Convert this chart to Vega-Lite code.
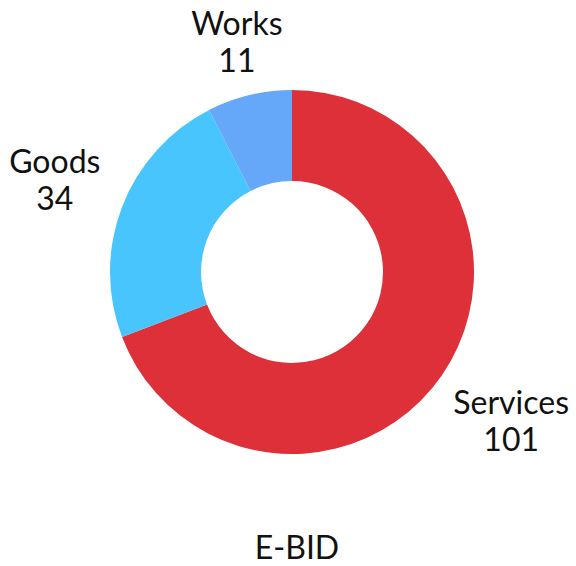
{
  "$schema": "https://vega.github.io/schema/vega-lite/v6.json",
  "width": 568,
  "height": 544,
  "autosize": {"type": "none"},
  "padding": {"left": 8, "top": 0, "right": 0, "bottom": 22},
  "background": "white",
  "config": {"view": {"stroke": null}, "font": "Lato"},
  "title": {
    "text": "E-BID",
    "orient": "bottom",
    "anchor": "middle",
    "baseline": "alphabetic",
    "offset": 15,
    "dx": 5,
    "fontSize": 32,
    "font": "Lato",
    "fontWeight": "normal",
    "color": "#111111"
  },
  "data": {
    "values": [
      {"category": "Services", "count": 101, "rank": 1},
      {"category": "Goods", "count": 34, "rank": 2},
      {"category": "Works", "count": 11, "rank": 3}
    ]
  },
  "transform": [
    {"calculate": "[datum.category, '' + datum.count]", "as": "label"}
  ],
  "encoding": {
    "theta": {"field": "count", "type": "quantitative", "stack": true},
    "order": {"field": "rank", "type": "quantitative"}
  },
  "layer": [
    {
      "mark": {"type": "arc", "outerRadius": 182, "innerRadius": 91},
      "encoding": {
        "color": {
          "field": "category",
          "type": "nominal",
          "scale": {"domain": ["Services", "Goods", "Works"], "range": ["#dd3039", "#47c5fc", "#65a8fa"]},
          "legend": null
        }
      }
    },
    {
      "mark": {"type": "text", "radius": 266, "dy": -18.5, "fontSize": 32, "font": "Lato", "lineHeight": 37, "color": "#111111", "align": "center", "baseline": "middle"},
      "encoding": {"text": {"condition": {"test": "datum.category === 'Services'", "field": "label"}, "value": ""}}
    },
    {
      "mark": {"type": "text", "radius": 254, "dy": -18.5, "fontSize": 32, "font": "Lato", "lineHeight": 37, "color": "#111111", "align": "center", "baseline": "middle"},
      "encoding": {"text": {"condition": {"test": "datum.category === 'Goods'", "field": "label"}, "value": ""}}
    },
    {
      "mark": {"type": "text", "radius": 235, "dy": -18.5, "fontSize": 32, "font": "Lato", "lineHeight": 37, "color": "#111111", "align": "center", "baseline": "middle"},
      "encoding": {"text": {"condition": {"test": "datum.category === 'Works'", "field": "label"}, "value": ""}}
    }
  ]
}
